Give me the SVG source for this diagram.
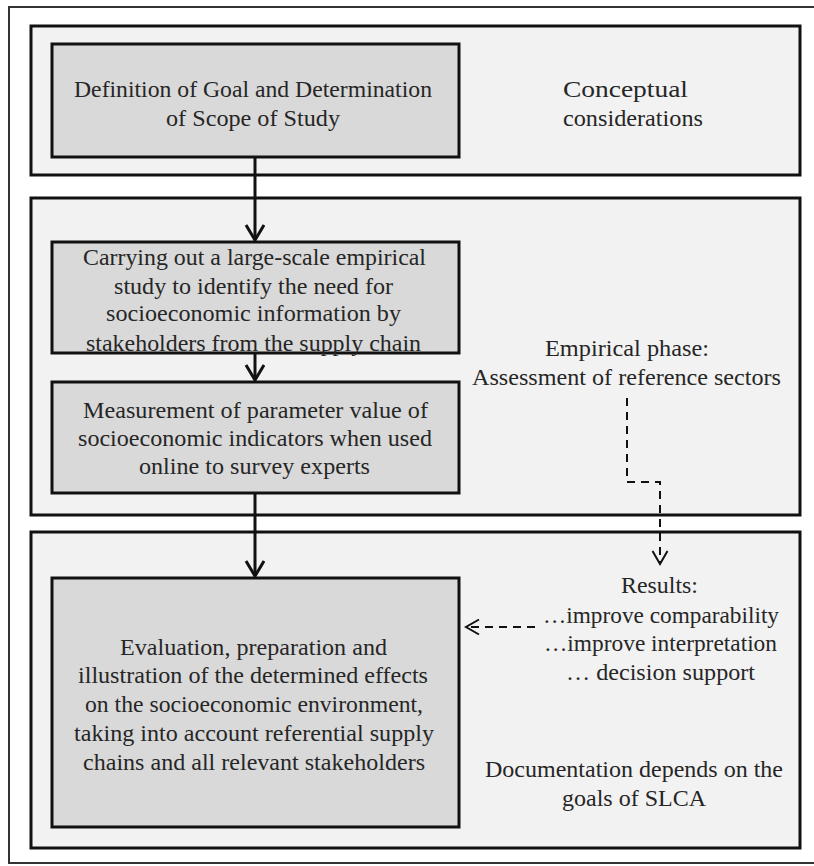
<svg xmlns="http://www.w3.org/2000/svg" width="814" height="866" viewBox="0 0 814 866">
<defs>
<style>
.panel{fill:#f2f2f2;stroke:#111;stroke-width:3}
.box{fill:#d9d9d9;stroke:#111;stroke-width:3}
.t{font-family:'Liberation Serif',Tinos,'Times New Roman',Times,serif;font-size:24px;fill:#262626}
.solid{stroke:#111;stroke-width:3;fill:none}
.dash{stroke:#111;stroke-width:2;fill:none;stroke-dasharray:8,6}
</style>
<marker id="ah" markerUnits="userSpaceOnUse" markerWidth="24" markerHeight="24" refX="17" refY="10" orient="auto">
<path d="M2,1 L17,10 L2,19" fill="none" stroke="#111" stroke-width="3"/>
</marker>
<marker id="ahd" markerUnits="userSpaceOnUse" markerWidth="22" markerHeight="22" refX="15" refY="9" orient="auto">
<path d="M2,1.5 L15,9 L2,16.5" fill="none" stroke="#111" stroke-width="2"/>
</marker>
</defs>
<rect width="814" height="866" fill="#ffffff"/>
<rect x="9" y="7" width="820" height="856" fill="#ffffff" stroke="#333" stroke-width="2"/>

<g id="panel1">
<rect class="panel" x="31" y="26" width="769" height="149"/>
<text class="t" x="563" y="97" textLength="125" lengthAdjust="spacingAndGlyphs">Conceptual</text>
<text class="t" x="563" y="126" textLength="140" lengthAdjust="spacingAndGlyphs">considerations</text>
</g>
<g id="panel2">
<rect class="panel" x="31" y="198" width="769" height="317"/>
<text class="t" x="545" y="356" textLength="164" lengthAdjust="spacingAndGlyphs">Empirical  phase:</text>
<text class="t" x="472" y="385" textLength="309" lengthAdjust="spacingAndGlyphs">Assessment of reference sectors</text>
</g>
<g id="panel3">
<rect class="panel" x="31" y="532" width="769" height="316"/>
<text class="t" x="621" y="593" textLength="77" lengthAdjust="spacingAndGlyphs">Results:</text>
<text class="t" x="543" y="623" textLength="236" lengthAdjust="spacingAndGlyphs">…improve comparability</text>
<text class="t" x="544" y="651" textLength="233" lengthAdjust="spacingAndGlyphs">…improve interpretation</text>
<text class="t" x="566" y="680" textLength="189" lengthAdjust="spacingAndGlyphs">… decision support</text>
<text class="t" x="485" y="777" textLength="298" lengthAdjust="spacingAndGlyphs">Documentation  depends on the</text>
<text class="t" x="562" y="806" textLength="144" lengthAdjust="spacingAndGlyphs">goals of SLCA</text>
</g>

<g id="box1">
<rect class="box" x="52" y="44" width="407" height="113"/>
<text class="t" x="74" y="97" textLength="358" lengthAdjust="spacingAndGlyphs">Definition  of Goal and Determination</text>
<text class="t" x="166" y="126" textLength="174" lengthAdjust="spacingAndGlyphs">of Scope of Study</text>
</g>
<g id="box2">
<rect class="box" x="52" y="242" width="407" height="111"/>
<text class="t" x="83" y="265" textLength="343" lengthAdjust="spacingAndGlyphs">Carrying  out a large-scale  empirical</text>
<text class="t" x="114" y="294" textLength="279" lengthAdjust="spacingAndGlyphs">study to identify  the need for</text>
<text class="t" x="106" y="321" textLength="295" lengthAdjust="spacingAndGlyphs">socioeconomic information  by</text>
<text class="t" x="86" y="351" textLength="335" lengthAdjust="spacingAndGlyphs">stakeholders from the supply chain</text>
</g>
<g id="box3">
<rect class="box" x="52" y="382" width="407" height="111"/>
<text class="t" x="83" y="418" textLength="345" lengthAdjust="spacingAndGlyphs">Measurement  of parameter  value  of</text>
<text class="t" x="78" y="446" textLength="354" lengthAdjust="spacingAndGlyphs">socioeconomic indicators when used</text>
<text class="t" x="139" y="474" textLength="231" lengthAdjust="spacingAndGlyphs">online  to survey experts</text>
</g>
<g id="box4">
<rect class="box" x="52" y="578" width="407" height="249"/>
<text class="t" x="120" y="655" textLength="267" lengthAdjust="spacingAndGlyphs">Evaluation,  preparation and</text>
<text class="t" x="78" y="683" textLength="350" lengthAdjust="spacingAndGlyphs">illustration  of the determined  effects</text>
<text class="t" x="85" y="712" textLength="338" lengthAdjust="spacingAndGlyphs">on the  socioeconomic environment,</text>
<text class="t" x="74" y="741" textLength="360" lengthAdjust="spacingAndGlyphs">taking  into account referential  supply</text>
<text class="t" x="83" y="770" textLength="342" lengthAdjust="spacingAndGlyphs">chains  and all  relevant  stakeholders</text>
</g>

<g id="connectors">
<line class="solid" x1="255" y1="158" x2="255" y2="240" marker-end="url(#ah)"/>
<line class="solid" x1="255" y1="354" x2="255" y2="380" marker-end="url(#ah)"/>
<line class="solid" x1="255" y1="494" x2="255" y2="576" marker-end="url(#ah)"/>
<polyline class="dash" points="627,398 627,482 660,482 660,564" marker-end="url(#ahd)"/>
<line class="dash" x1="535" y1="627" x2="466" y2="627" marker-end="url(#ahd)"/>
</g>
</svg>
